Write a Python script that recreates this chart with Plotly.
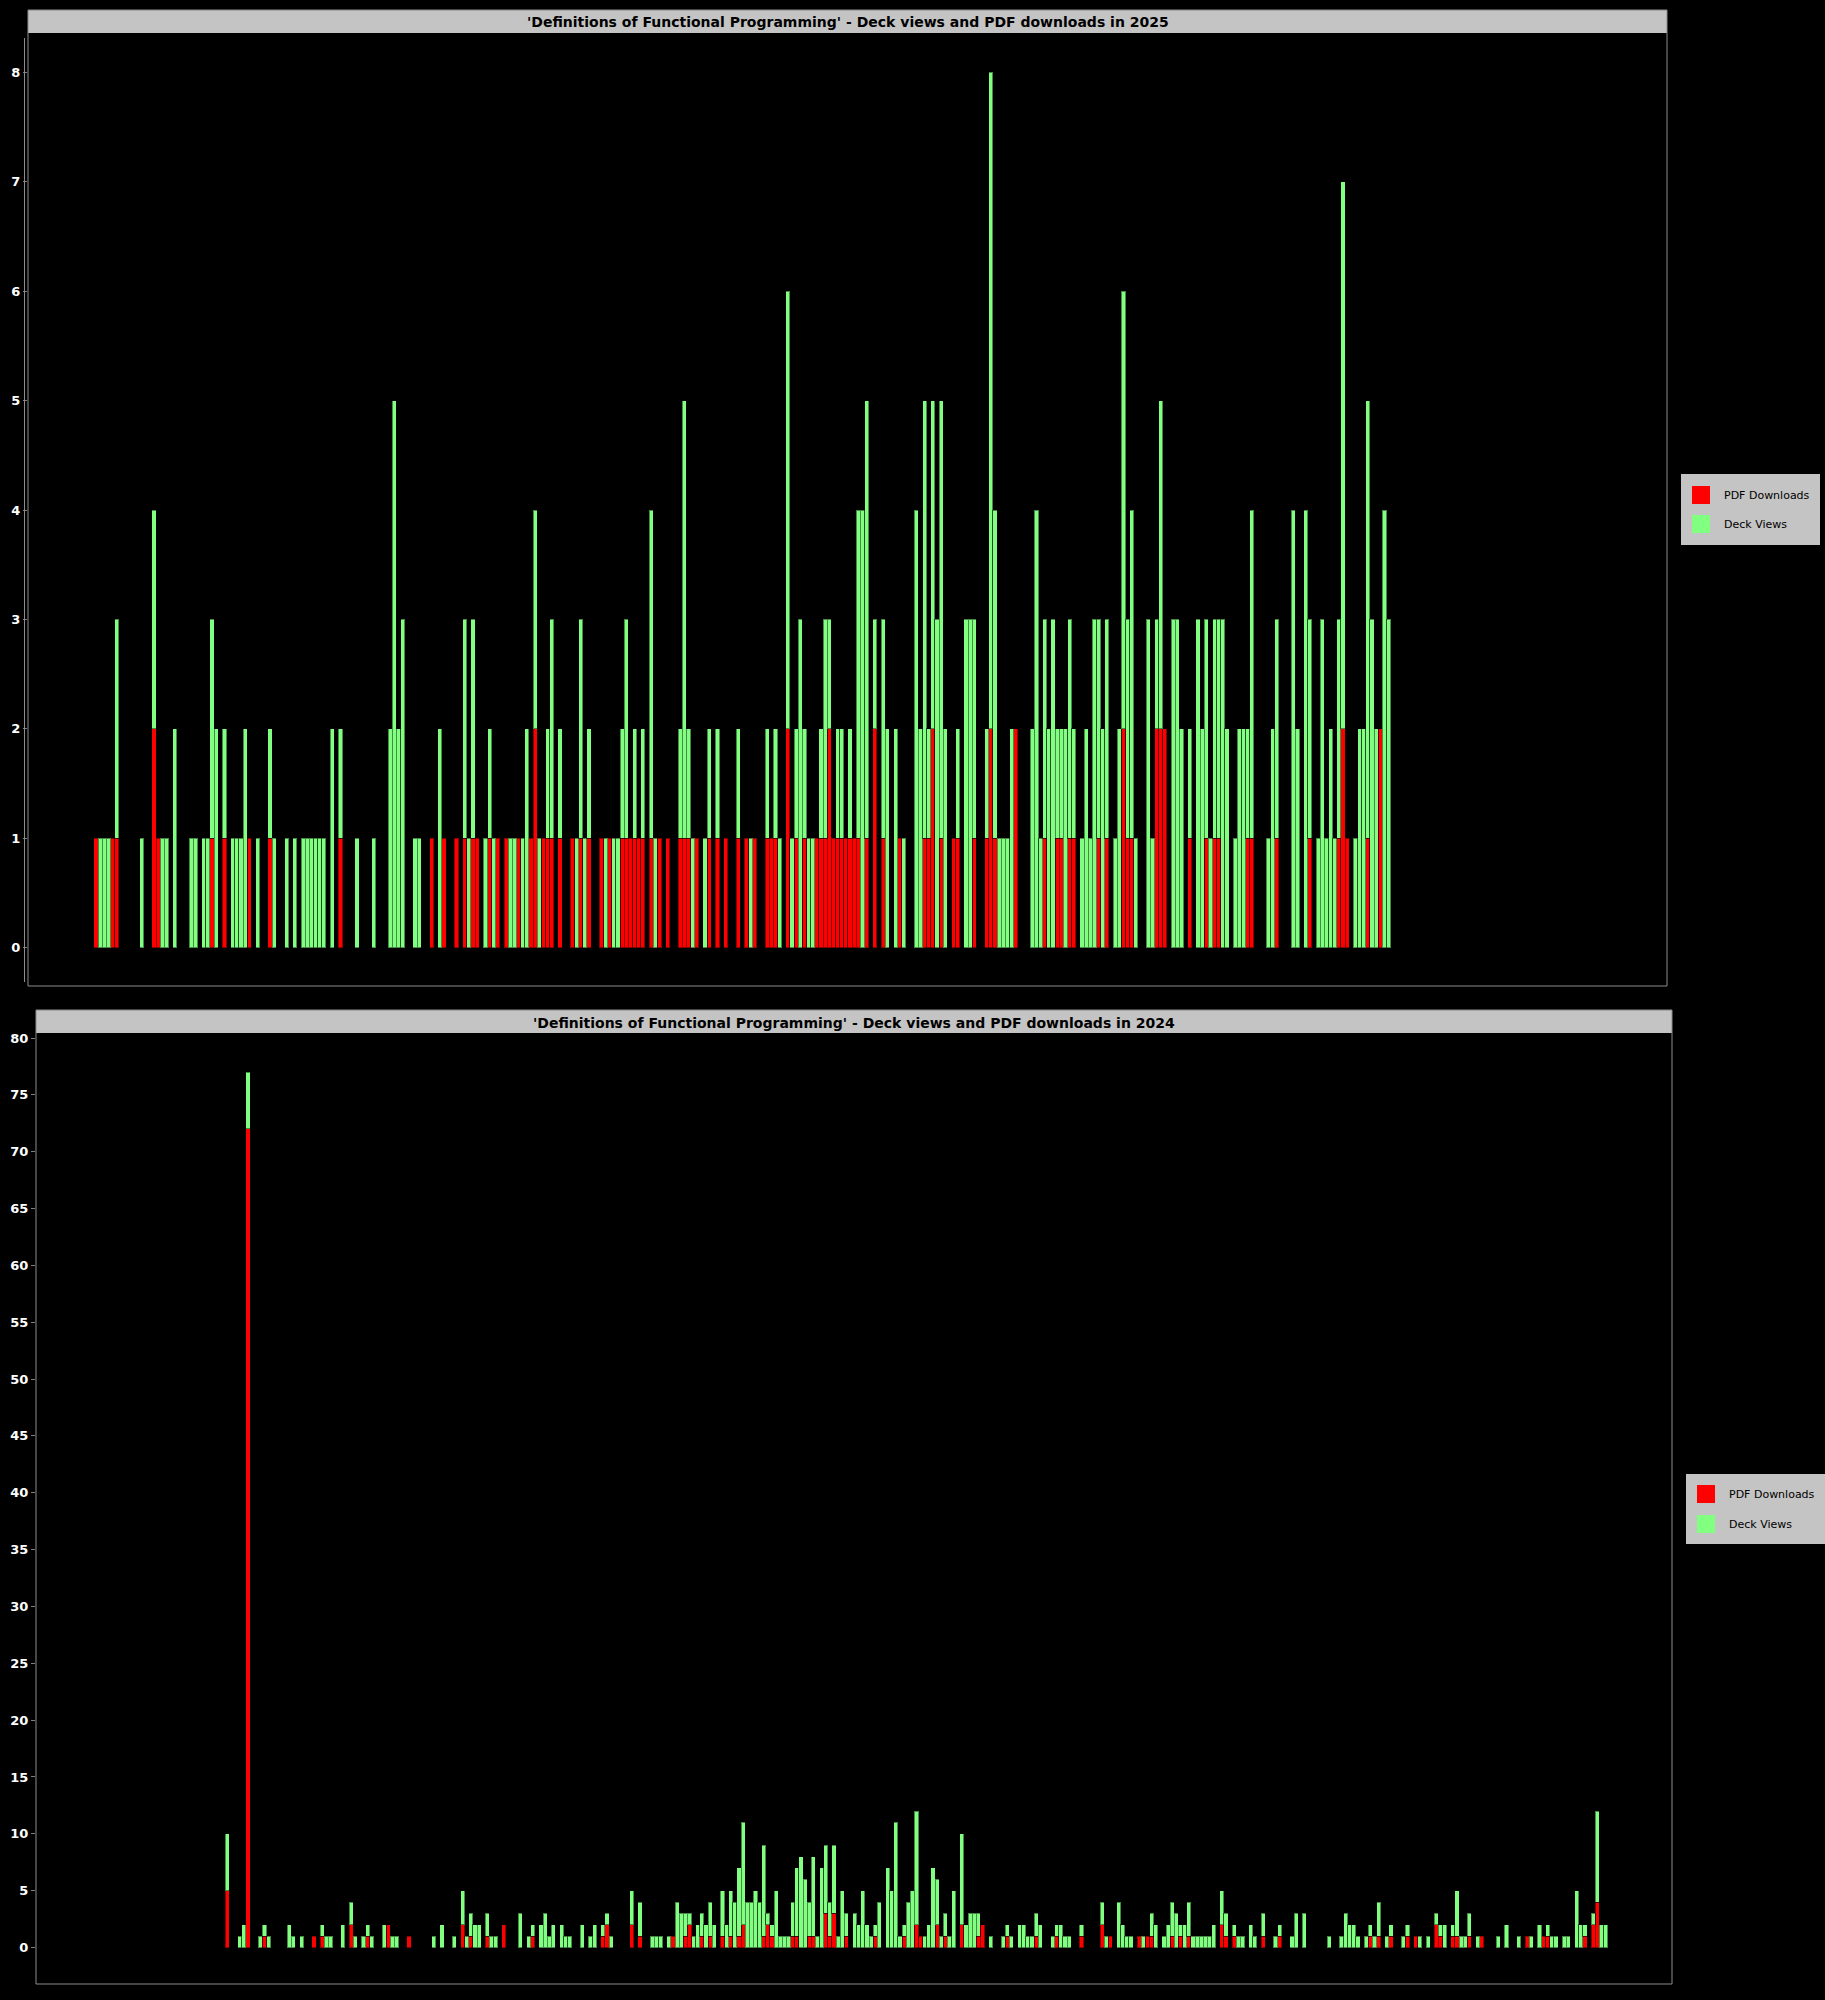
import plotly.graph_objects as go

# ---------------- data ----------------
# 2025: one bar per day index, stacked: PDF downloads (bottom) + deck views (top)
pdf_2025 = [
    1,0,0,0,1,1,0,0,0,0, 0,0,0,0,2,1,0,0,0,0,
    0,0,0,0,0,0,0,0,1,0, 0,1,0,0,0,0,0,1,0,0,
    0,0,1,0,0,0,0,0,0,0, 0,0,0,0,0,0,0,0,0,1,
    0,0,0,0,0,0,0,0,0,0, 0,0,0,0,0,0,0,0,0,0,
    0,1,0,0,1,0,0,1,0,1, 0,1,1,0,0,1,0,1,0,1,
    0,0,1,0,0,1,2,0,1,1, 1,0,1,0,0,1,0,1,0,1,
    0,0,1,0,1,0,0,1,1,1, 1,1,1,0,1,0,1,0,1,0,
    0,1,1,1,0,1,0,0,1,0, 1,0,1,0,0,1,0,1,0,1,
    0,0,1,1,1,0,0,2,0,1, 0,1,0,0,1,1,1,2,1,1,
    1,1,1,1,1,0,1,0,2,0, 1,0,0,0,1,0,0,0,0,0,
    1,1,2,0,1,0,0,1,1,0, 0,0,1,0,0,1,2,1,0,0,
    0,0,2,0,0,0,0,0,0,1, 0,0,1,1,0,1,1,0,0,0,
    0,0,1,0,1,0,0,0,2,1, 1,0,0,0,0,0,2,2,2,0,
    0,0,0,0,1,0,0,0,1,0, 1,1,0,0,0,0,0,0,1,1,
    0,0,0,0,0,1,0,0,0,0, 0,0,0,1,0,0,0,0,0,0,
    1,2,1,0,0,0,0,1,0,0, 2,0,0,
]
views_2025 = [
    0,1,1,1,0,2,0,0,0,0, 0,1,0,0,2,0,1,1,0,2,
    0,0,0,1,1,0,1,1,2,2, 0,1,0,1,1,1,2,0,0,1,
    0,0,1,1,0,0,1,0,1,0, 1,1,1,1,1,1,0,2,0,1,
    0,0,0,1,0,0,0,1,0,0, 0,2,5,2,3,0,0,1,1,0,
    0,0,0,2,0,0,0,0,0,2, 1,2,0,0,1,1,1,0,0,0,
    1,1,0,1,2,0,2,1,0,1, 2,0,1,0,0,0,1,2,1,1,
    0,0,0,1,0,1,1,1,2,0, 1,0,1,0,3,1,0,0,0,0,
    0,1,4,1,1,0,0,1,1,0, 1,0,0,0,0,1,0,0,1,0,
    0,0,1,0,1,1,0,4,1,1, 3,1,1,1,0,1,2,1,0,1,
    1,0,1,0,3,4,4,0,1,0, 2,2,0,2,0,1,0,0,4,2,
    4,1,3,3,4,2,0,0,1,0, 3,3,2,0,0,1,6,3,1,1,
    1,2,0,0,0,0,2,4,1,2, 2,3,1,1,2,2,1,0,1,2,
    1,3,2,2,2,0,1,2,4,2, 3,1,0,0,3,1,1,3,0,0,
    3,3,2,0,1,0,3,2,2,1, 2,2,3,2,0,1,2,2,1,3,
    0,0,0,1,2,2,0,0,0,4, 2,0,4,2,0,1,3,1,2,1,
    2,5,0,0,1,2,2,4,3,2, 0,4,3,
]

# 2024
pdf_2024 = [
    5,0,0,0,0,72,0,0,0,1, 0,0,0,0,0,0,0,0,0,0,
    0,1,0,1,0,0,0,0,0,0, 2,0,0,0,1,0,0,0,0,2,
    0,0,0,0,1,0,0,0,0,0, 0,0,0,0,0,0,0,2,0,1,
    0,0,0,1,0,0,0,2,0,0, 0,0,0,0,1,0,0,0,0,0,
    0,0,0,0,0,0,0,0,0,0, 0,1,2,0,0,0,0,0,2,0,
    1,0,0,0,0,0,0,0,1,0, 0,1,2,0,0,1,0,1,0,0,
    1,0,1,0,1,2,0,0,0,0, 1,2,1,0,0,0,0,1,1,0,
    0,1,1,0,0,3,1,3,0,0, 1,0,0,0,0,0,0,1,0,0,
    0,0,0,0,1,0,0,2,1,0, 0,0,2,0,1,0,0,0,2,0,
    0,0,1,2,0,0,0,0,0,1, 0,0,0,0,0,0,1,0,0,0,
    0,1,0,0,0,0,0,1,0,0, 0,0,2,0,1,0,0,0,0,0,
    0,1,0,1,1,0,0,0,0,1, 0,1,0,1,0,0,0,0,0,0,
    0,2,1,0,1,0,0,0,0,0, 0,1,0,0,0,1,0,0,0,0,
    0,0,0,0,0,0,0,0,0,0, 0,0,0,0,0,0,0,1,0,1,
    0,0,1,0,0,0,1,0,1,0, 0,0,0,2,1,0,0,1,1,0,
    0,1,0,0,1,0,0,0,0,0, 0,0,0,0,0,1,0,0,0,1,
    1,0,0,0,0,0,0,0,0,1, 0,2,4,0,0,
]
views_2024 = [
    5,0,0,1,2,5,0,0,1,1, 1,0,0,0,0,2,1,0,1,0,
    0,0,0,1,1,1,0,0,2,0, 2,1,0,1,1,1,0,0,2,0,
    1,1,0,0,0,0,0,0,0,0, 1,0,2,0,0,1,0,3,1,2,
    2,2,0,2,1,1,0,0,0,0, 0,3,0,1,1,0,2,3,1,2,
    0,2,1,1,0,0,2,0,1,2, 0,1,1,1,0,0,0,0,3,0,
    3,0,0,1,1,1,0,1,0,4, 3,2,1,1,2,2,2,3,2,0,
    4,2,4,4,6,9,4,4,5,4, 8,1,1,5,1,1,1,3,6,8,
    6,3,7,1,7,6,3,6,1,5, 2,0,3,2,5,2,1,1,4,0,
    7,5,11,1,1,4,5,10,0,1, 2,7,4,1,2,1,5,0,8,2,
    3,3,2,0,0,1,0,0,1,1, 1,0,2,2,1,1,2,2,0,0,
    1,1,2,1,1,0,0,1,0,0, 0,0,2,1,0,0,4,2,1,1,
    0,0,1,0,2,2,0,1,2,3, 3,1,2,3,1,1,1,1,1,2,
    0,3,2,0,1,1,1,0,2,1, 0,2,0,0,1,1,0,0,1,3,
    0,3,0,0,0,0,0,1,0,0, 1,3,2,2,1,0,1,1,1,3,
    0,1,1,0,0,1,1,0,0,1, 0,1,0,1,1,2,0,1,4,1,
    1,2,0,1,0,0,0,0,1,0, 2,0,0,1,0,0,1,0,2,0,
    1,1,1,0,1,1,0,5,2,1, 0,1,8,2,2,
]

series_names = ["PDF Downloads", "Deck Views"]
titles = [
    "'Definitions of Functional Programming' - Deck views and PDF downloads in 2025",
    "'Definitions of Functional Programming' - Deck views and PDF downloads in 2024",
]
ticks_2025 = list(range(0, 9))
ticks_2024 = list(range(0, 81, 5))

# ---------------- styling ----------------
W, H = 1825, 2000
RED = "#ff0000"
GREEN = "#80ff80"
OUTLINE = "rgba(0,0,0,0.45)"
FONT = "DejaVu Sans"


def px(x):
    return x / W


def py(y):
    return 1 - y / H


def nz(v):
    return [a if a else None for a in v]


fig = go.Figure()

for (p, v, xa, ya) in [(pdf_2025, views_2025, "x", "y"), (pdf_2024, views_2024, "x2", "y2")]:
    fig.add_trace(go.Bar(x=list(range(len(p))), y=nz(p), name=series_names[0], width=1,
                         marker=dict(color=RED, line=dict(color=OUTLINE, width=1)),
                         xaxis=xa, yaxis=ya, showlegend=False, hoverinfo="skip"))
    fig.add_trace(go.Bar(x=list(range(len(v))), y=nz(v), name=series_names[1], width=1,
                         marker=dict(color=GREEN, line=dict(color=OUTLINE, width=1)),
                         xaxis=xa, yaxis=ya, showlegend=False, hoverinfo="skip"))

tickfont = dict(family=FONT, size=13, color="white", weight="bold")
yax_common = dict(showgrid=False, zeroline=False, ticks="outside", ticklen=4,
                  tickcolor="#808080", tickfont=tickfont, showline=False,
                  automargin=False, fixedrange=True)

fig.update_layout(
    width=W, height=H,
    margin=dict(l=0, r=0, t=0, b=0),
    paper_bgcolor="black", plot_bgcolor="black",
    barmode="stack", bargap=0,
    showlegend=False,
    xaxis=dict(domain=[px(28), px(1667)], range=[-16.43, 379.2], visible=False, anchor="y",
               fixedrange=True),
    yaxis=dict(domain=[py(986), py(33)], range=[-0.35, 8.36], anchor="x",
               tickvals=ticks_2025, **yax_common),
    xaxis2=dict(domain=[px(36), px(1672)], range=[-46.38, 350.1], visible=False, anchor="y2",
                fixedrange=True),
    yaxis2=dict(domain=[py(1984), py(1033)], range=[-3.21, 80.44], anchor="x2",
                tickvals=ticks_2024, **yax_common),
)

shapes = []
annotations = []

panels = [
    dict(x0=28, x1=1667, top=10, bar_bottom=33, bottom=986, title=titles[0],
         leg=dict(x0=1681, x1=1820, y0=474, y1=545, sq_x=1692, txt_x=1722, r_y=495, g_y=524)),
    dict(x0=36, x1=1672, top=1010, bar_bottom=1033, bottom=1984, title=titles[1],
         leg=dict(x0=1686, x1=1825, y0=1474, y1=1544, sq_x=1697, txt_x=1727, r_y=1494, g_y=1524)),
]

for pn in panels:
    # title bar
    shapes.append(dict(type="rect", xref="paper", yref="paper",
                       x0=px(pn["x0"]), x1=px(pn["x1"]), y0=py(pn["bar_bottom"]), y1=py(pn["top"]),
                       fillcolor="#c4c4c4", line=dict(width=0), layer="above"))
    annotations.append(dict(xref="paper", yref="paper", x=px((pn["x0"] + pn["x1"]) / 2),
                            y=py((pn["top"] + pn["bar_bottom"]) / 2 + 1), text=pn["title"],
                            showarrow=False, xanchor="center", yanchor="middle",
                            font=dict(family=FONT, size=14, color="black", weight="bold")))
    # frame
    shapes.append(dict(type="rect", xref="paper", yref="paper",
                       x0=px(pn["x0"]), x1=px(pn["x1"]), y0=py(pn["bottom"]), y1=py(pn["top"]),
                       line=dict(color="#8c8c8c", width=1), fillcolor="rgba(0,0,0,0)", layer="above"))
    # legend
    lg = pn["leg"]
    shapes.append(dict(type="rect", xref="paper", yref="paper",
                       x0=px(lg["x0"]), x1=px(lg["x1"]), y0=py(lg["y1"]), y1=py(lg["y0"]),
                       fillcolor="#c4c4c4", line=dict(width=0), layer="above"))
    for col, yy, name in [(RED, lg["r_y"], series_names[0]), (GREEN, lg["g_y"], series_names[1])]:
        shapes.append(dict(type="rect", xref="paper", yref="paper",
                           x0=px(lg["sq_x"]), x1=px(lg["sq_x"] + 18), y0=py(yy + 9), y1=py(yy - 9),
                           fillcolor=col, line=dict(width=0), layer="above"))
        annotations.append(dict(xref="paper", yref="paper", x=px(lg["txt_x"]), y=py(yy),
                                text=name, showarrow=False, xanchor="left", yanchor="middle",
                                font=dict(family=FONT, size=11, color="black")))

# y-axis line of the upper chart (drawn just left of its frame)
shapes.append(dict(type="line", xref="paper", yref="paper", x0=px(24.5), x1=px(24.5),
                   y0=py(982), y1=py(38), line=dict(color="#8c8c8c", width=1), layer="above"))

fig.update_layout(shapes=shapes, annotations=annotations)

fig.write_html(
    "out.html",
    config={"displayModeBar": False, "staticPlot": True},
    post_script="document.body.style.margin='0px';document.body.style.background='black';"
                "document.documentElement.style.overflow='hidden';",
)
